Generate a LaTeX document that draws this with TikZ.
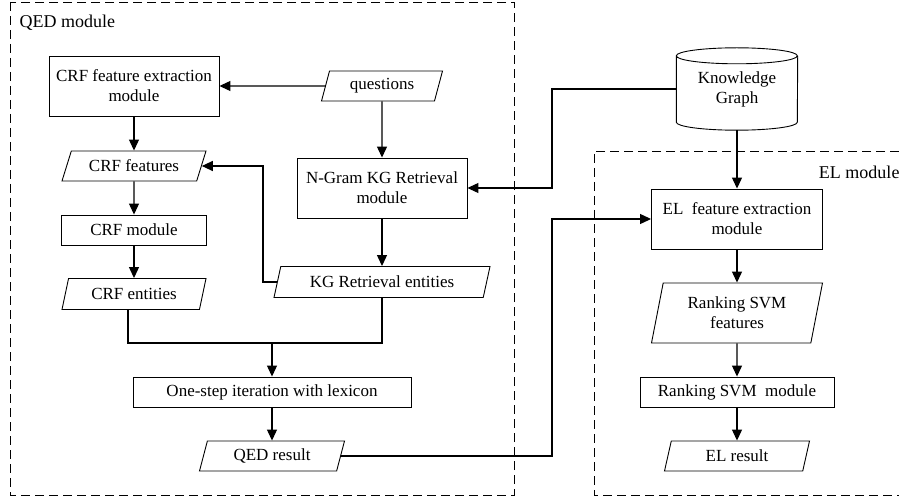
\documentclass[tikz,border=0pt]{standalone}
\usepackage{fontspec}
\setmainfont{Liberation Serif}
\usetikzlibrary{arrows.meta,shapes.geometric}
\begin{document}
\begin{tikzpicture}[x=1pt, y=-1pt,
  font=\fontsize{17}{20}\selectfont,
  box/.style={draw, line width=0.9pt, align=center, inner sep=2pt},
  io/.style 2 args={box, trapezium, trapezium left angle=#1, trapezium right angle=#2, trapezium stretches body},
  arr/.style={line width=1.2pt, -{Triangle[length=11pt,width=10pt]}},
  module/.style={line width=0.9pt, dash pattern=on 9pt off 5pt}]
  \useasboundingbox (0,0) rectangle (899,497);

  \draw[module] (10,2) rectangle (514,495);
  \draw[module] (899,151) -- (594,151) -- (594,495) -- (899,495);
  \node[anchor=west, font=\fontsize{18}{21}\selectfont] (qedlbl) at (16,23) {QED module};
  \node[anchor=east, font=\fontsize{18}{21}\selectfont] (ellbl) at (903,172) {EL module};

  \node[box, minimum width=170, minimum height=60] (crfext) at (134,86) {CRF feature extraction\\module};
  \node[io={67}{113}, minimum width=121, minimum height=30] (quest) at (382,86) {questions};
  \node[io={60}{120}, minimum width=144, minimum height=30] (crffeat) at (134,166) {CRF features};
  \node[box, minimum width=170, minimum height=60] (ngram) at (382,188) {N-Gram KG Retrieval\\module};
  \node[box, minimum width=145, minimum height=30] (crfmod) at (134,230) {CRF module};
  \node[io={67}{113}, minimum width=144, minimum height=31] (crfent) at (134,294) {CRF entities};
  \node[io={67}{113}, minimum width=216, minimum height=31] (kgent) at (382,282) {KG Retrieval entities};
  \node[box, minimum width=278, minimum height=30] (iter) at (272,392) {One-step iteration with lexicon};
  \node[io={67}{113}, minimum width=145, minimum height=30] (qedres) at (272,456) {QED result};

  \node[minimum width=121, minimum height=82, align=center] (kg) at (737,89) {Knowledge\\Graph};
  \draw[line width=0.9pt] ([yshift=-8pt]kg.north west) arc[start angle=180, end angle=540, x radius=60.5pt, y radius=8pt]
    -- ([yshift=8pt]kg.south west) arc[start angle=180, end angle=360, x radius=60.5pt, y radius=8pt]
    -- ([yshift=-8pt]kg.north east);
  \node[box, minimum width=171, minimum height=60] (elfeat) at (737,219) {EL\enspace feature extraction\\module};
  \node[io={72}{108}, minimum width=171, minimum height=60] (svmfeat) at (737,313) {Ranking SVM\\features};
  \node[box, minimum width=194, minimum height=30] (svmmod) at (737,392) {Ranking SVM\enspace module};
  \node[io={67}{113}, minimum width=145, minimum height=30] (elres) at (737,456) {EL result};

  \coordinate (join) at (272,343);
  \coordinate (kbend) at (552,188);
  \coordinate (qbend) at (552,219);

  \draw[arr] (quest) -- (crfext);
  \draw[arr] (quest) -- (ngram);
  \foreach \a/\b in {crfext/crffeat, crffeat/crfmod, crfmod/crfent, ngram/kgent, iter/qedres,
                     kg/elfeat, elfeat/svmfeat, svmfeat/svmmod, svmmod/elres}
    \draw[arr] (\a) -- (\b);
  \draw[arr] (kgent.west) -- ++(-14,0) |- (crffeat.east);
  \draw[line width=1.2pt] ([xshift=-6pt]crfent.south) |- (join) -| (kgent.south);
  \draw[arr] (join) -- (iter);
  \draw[arr] (kg.west) -| (kbend) -- (ngram.east);
  \draw[arr] (qedres.east) -| (qbend) -- (elfeat.west);
\end{tikzpicture}
\end{document}
